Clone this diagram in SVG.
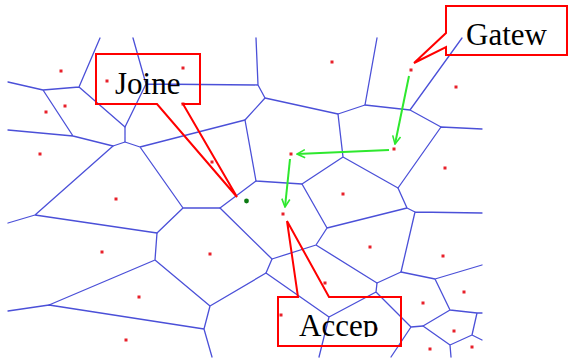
<svg xmlns="http://www.w3.org/2000/svg" width="568" height="359" viewBox="0 0 568 359">
  <style>
    .cell { fill: none; stroke: #4b50d8; stroke-width: 1.3; stroke-linecap: round; stroke-linejoin: round; }
    .site { fill: #e8202a; }
    .hop { fill: none; stroke: #2ee82e; stroke-width: 2; marker-end: url(#vee); }
    .callout { fill: none; stroke: #ff0000; stroke-width: 2; stroke-linejoin: miter; }
    .label { font-family: "Liberation Serif", "Times New Roman", serif; font-size: 31px; fill: #000; }
  </style>
  <defs>
    <marker id="vee" viewBox="0 0 10 10" refX="9" refY="5" markerWidth="5" markerHeight="5" orient="auto" markerUnits="strokeWidth">
      <path d="M1,1 L9,5 L1,9" fill="none" stroke="#2ee82e" stroke-width="1.6"/>
    </marker>
    <clipPath id="accepClip">
      <rect x="270" y="290" width="140" height="47"/>
    </clipPath>
  </defs>
  <rect width="568" height="359" fill="#ffffff"/>

  <!-- Voronoi cell boundaries -->
  <g id="cells" class="cell">
    <path d="M100,38 L79,87 M79,87 L43,90 L8,82 M43,90 L73,136 L8,130 M73,136 L113,146 L125,142 L125,127 L79,87"/>
    <path d="M125,127 L146,84 L133,38 M146,84 L258,85 L256,38 M258,85 L265,98 L338,114 L365,105 L377,38"/>
    <path d="M365,105 L410,110 L462,38 M410,110 L441,127 L482,129 M441,127 L398,188 L343,157 L338,114 M343,157 L302,184 L256,181 L245,120 L265,98"/>
    <path d="M245,120 L140,147 L125,142 M140,147 L183,208 L220,208 L256,181 M183,208 L157,233 L35,215 L8,223 M35,215 L113,146"/>
    <path d="M157,233 L155,260 L49,305 L8,311 M155,260 L210,306 L204,329 L49,305 M204,329 L212,357 M210,306 L266,273 L272,259 L220,208"/>
    <path d="M302,184 L327,228 L316,245 L272,259 M327,228 L407,208 L398,188 M407,208 L415,212 L482,213 M415,212 L401,272 L377,283 L316,245"/>
    <path d="M401,272 L435,279 L482,265 M435,279 L450,310 L477,313 L482,313 M477,313 L472,335 L482,340 M472,335 L450,345 L451,357 M450,345 L423,326 L450,310"/>
    <path d="M377,283 L376,292 L329,317 L266,273 M329,317 L319,357 M376,292 L411,327 L423,326 M411,327 L391,357"/>
  </g>

  <!-- Sites -->
  <g id="sites" class="site">
    <rect x="59.5" y="69.5" width="3" height="3"/>
    <rect x="181.5" y="66.5" width="3" height="3"/>
    <rect x="105.5" y="79.5" width="3" height="3"/>
    <rect x="63.5" y="104.5" width="3" height="3"/>
    <rect x="44.5" y="110.5" width="3" height="3"/>
    <rect x="181.5" y="102.5" width="3" height="3"/>
    <rect x="38.5" y="152.5" width="3" height="3"/>
    <rect x="210.5" y="160.5" width="3" height="3"/>
    <rect x="330.5" y="60.5" width="3" height="3"/>
    <rect x="409.5" y="68.5" width="3" height="3"/>
    <rect x="454.5" y="85.5" width="3" height="3"/>
    <rect x="392.5" y="147.5" width="3" height="3"/>
    <rect x="289.5" y="152.5" width="3" height="3"/>
    <rect x="443.5" y="166.5" width="3" height="3"/>
    <rect x="114.5" y="197.5" width="3" height="3"/>
    <rect x="100.5" y="250.5" width="3" height="3"/>
    <rect x="208.5" y="252.5" width="3" height="3"/>
    <rect x="137.5" y="295.5" width="3" height="3"/>
    <rect x="124.5" y="338.5" width="3" height="3"/>
    <rect x="281.5" y="212.5" width="3" height="3"/>
    <rect x="279.5" y="313.5" width="3" height="3"/>
    <rect x="341.5" y="192.5" width="3" height="3"/>
    <rect x="368.5" y="245.5" width="3" height="3"/>
    <rect x="441.5" y="254.5" width="3" height="3"/>
    <rect x="323.5" y="281.5" width="3" height="3"/>
    <rect x="462.5" y="290.5" width="3" height="3"/>
    <rect x="421.5" y="301.5" width="3" height="3"/>
    <rect x="374.5" y="327.5" width="3" height="3"/>
    <rect x="452.5" y="329.5" width="3" height="3"/>
    <rect x="428.5" y="347.5" width="3" height="3"/>
    <rect x="470.5" y="345.5" width="3" height="3"/>
  </g>
  <circle id="joiner" cx="246.5" cy="201" r="2.4" fill="#0b7a12"/>

  <!-- Routing hops -->
  <g id="connectors">
    <line class="hop" x1="409" y1="76" x2="395" y2="144"/>
    <line class="hop" x1="389" y1="150" x2="297" y2="154"/>
    <line class="hop" x1="290" y1="159" x2="285" y2="207"/>
  </g>

  <!-- Callouts -->
  <g id="joine">
    <path class="callout" d="M96,54 H200 V104 H183 L237,197 L157,104 H96 Z"/>
    <text class="label" x="115" y="94">Joine</text>
  </g>
  <g id="gatew">
    <path class="callout" d="M446,6 H567 V55 H446 V47 L414,63 L446,33 Z"/>
    <text class="label" x="466" y="45">Gatew</text>
  </g>
  <g id="accep">
    <path class="callout" d="M278,297 H298 L287,221 L329,297 H401 V346 H278 Z"/>
    <text class="label" x="299" y="336" clip-path="url(#accepClip)">Accep</text>
  </g>
</svg>
